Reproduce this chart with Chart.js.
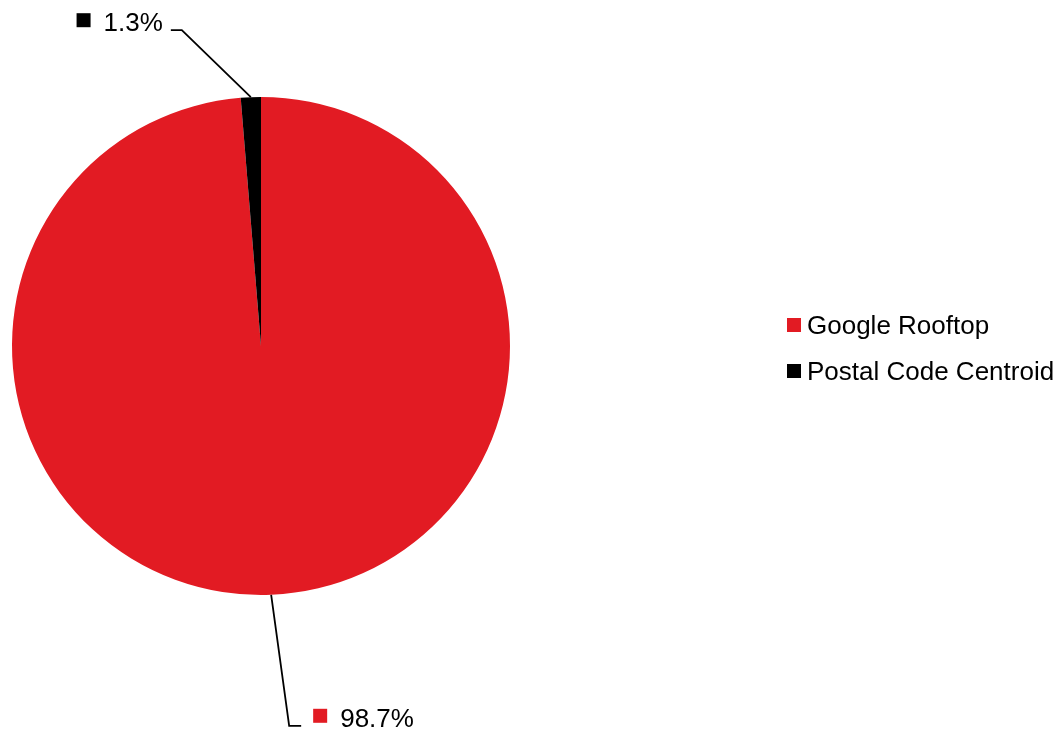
<!DOCTYPE html>
<html>
<head>
<meta charset="utf-8">
<script src="https://cdn.jsdelivr.net/npm/chart.js@4/dist/chart.umd.min.js"></script>
<style>
html,body{margin:0;padding:0;background:#fff;}
#wrap{width:1063px;height:731px;position:relative;}
</style>
</head>
<body>
<div id="wrap"><canvas id="c" width="1063" height="731"></canvas></div>
<script>
const categories = ["Google Rooftop", "Postal Code Centroid"];
const shares = [98.7, 1.3];
const pctLabels = ["98.7%", "1.3%"];
const colors = ["#E21B23", "#000000"];

const FONT = '26px "Liberation Sans", Arial, sans-serif';

// label leader settings per slice: elbow offset from slice edge, horizontal run direction/length
const leaders = [
  {dx: 18, dy: 131, run: 12, gap1: 12},   // Google Rooftop -> down-right
  {dx: -69, dy: -67, run: -11, gap1: 8}   // Postal Code -> up-left
];

const labelPlugin = {
  id: 'pieLabels',
  afterDatasetsDraw(chart) {
    const ctx = chart.ctx;
    const meta = chart.getDatasetMeta(0);
    ctx.save();
    ctx.font = FONT;
    ctx.textBaseline = 'alphabetic';
    meta.data.forEach((arc, i) => {
      const mid = (arc.startAngle + arc.endAngle) / 2;
      const ex = arc.x + Math.cos(mid) * arc.outerRadius;
      const ey = arc.y + Math.sin(mid) * arc.outerRadius;
      const L = leaders[i];
      const bx = ex + L.dx, by = ey + L.dy;
      const hx = bx + L.run;
      ctx.strokeStyle = '#000';
      ctx.lineWidth = 1.8;
      ctx.beginPath();
      ctx.moveTo(ex, ey);
      ctx.lineTo(bx, by);
      ctx.lineTo(hx, by);
      ctx.stroke();
      const txt = pctLabels[i];
      const tw = ctx.measureText(txt).width;
      const sq = 14, gap2 = 13;
      let sqx;
      if (L.run > 0) {
        sqx = hx + L.gap1;
      } else {
        sqx = hx - L.gap1 - tw - gap2 - sq;
      }
      ctx.fillStyle = colors[i];
      ctx.fillRect(sqx, by - 17, sq, sq);
      ctx.fillStyle = '#000';
      ctx.fillText(txt, sqx + sq + gap2, by + 1);
    });
    // legend
    const lx = 787, ly0 = 318, step = 46;
    categories.forEach((name, i) => {
      const y = ly0 + i * step;
      ctx.fillStyle = colors[i];
      ctx.fillRect(lx, y, 14, 14);
      ctx.fillStyle = '#000';
      ctx.fillText(name, lx + 20, y + 16);
    });
    ctx.restore();
  }
};

new Chart(document.getElementById('c'), {
  type: 'pie',
  data: {
    labels: categories,
    datasets: [{
      data: shares,
      backgroundColor: colors,
      borderWidth: 0
    }]
  },
  options: {
    responsive: false,
    animation: false,
    layout: {padding: {left: 12, right: 553, top: 97, bottom: 136}},
    plugins: {legend: {display: false}, tooltip: {enabled: false}}
  },
  plugins: [labelPlugin]
});
</script>
</body>
</html>
